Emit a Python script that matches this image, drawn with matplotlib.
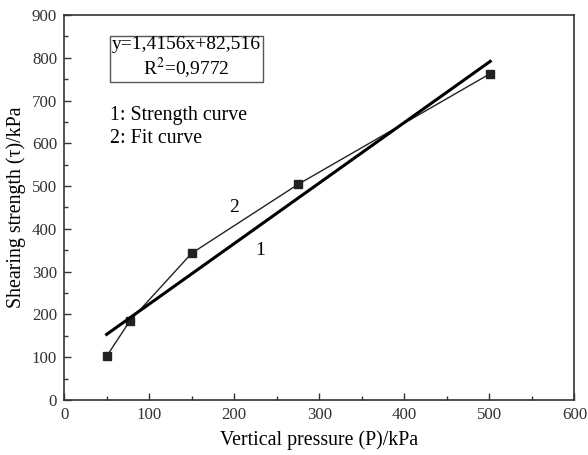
import matplotlib
matplotlib.use("Agg")
import matplotlib.pyplot as plt
import numpy as np
from matplotlib.ticker import MultipleLocator

plt.rcParams['font.family'] = ['Liberation Serif', 'DejaVu Serif']
plt.rcParams['mathtext.fontset'] = 'stix'

pressure = [50, 77, 150, 275, 501]
strength = [102, 184, 343, 504, 763]
slope, intercept = 1.4156, 82.516
fit_x = [50, 501]

fig = plt.figure(figsize=(5.88, 4.55), dpi=100)
ax = fig.add_axes([0.109, 0.121, 0.868, 0.846])

ax.plot(pressure, strength, color='#222222', lw=1.0, marker='s', ms=6,
        markerfacecolor='#222222', markeredgecolor='#222222')
fx = np.array(fit_x)
ax.plot(fx, slope * fx + intercept, color='black', lw=2.2)

ax.set_xlim(0, 600)
ax.set_ylim(0, 900)
ax.xaxis.set_major_locator(MultipleLocator(100))
ax.xaxis.set_minor_locator(MultipleLocator(50))
ax.yaxis.set_major_locator(MultipleLocator(100))
ax.yaxis.set_minor_locator(MultipleLocator(50))
ax.tick_params(which='both', direction='in', labelsize=12.2, colors='#333333', width=1.0)
ax.tick_params(which='major', length=5, pad=5)
ax.tick_params(which='minor', length=3)
for s in ax.spines.values():
    s.set_linewidth(1.2)
    s.set_color('#333333')

ax.set_xlabel('Vertical pressure (P)/kPa', fontsize=14.3, labelpad=5)
ax.set_ylabel('Shearing strength (τ)/kPa', fontsize=14.3, labelpad=4)

ax.text(0.24, 0.888, 'y=1,4156x+82,516\nR$^2$=0,9772', transform=ax.transAxes,
        fontsize=14, ha='center', va='center', linespacing=1.1,
        bbox=dict(boxstyle='square,pad=0.12', facecolor='white', edgecolor='#555555', lw=1.0))
ax.text(54, 666, '1: Strength curve', fontsize=14.3, va='center')
ax.text(54, 612, '2: Fit curve', fontsize=14.3, va='center')
ax.text(231, 350, '1', fontsize=14, ha='center', va='center')
ax.text(200, 451, '2', fontsize=14, ha='center', va='center')

fig.savefig('out.png', dpi=100)
